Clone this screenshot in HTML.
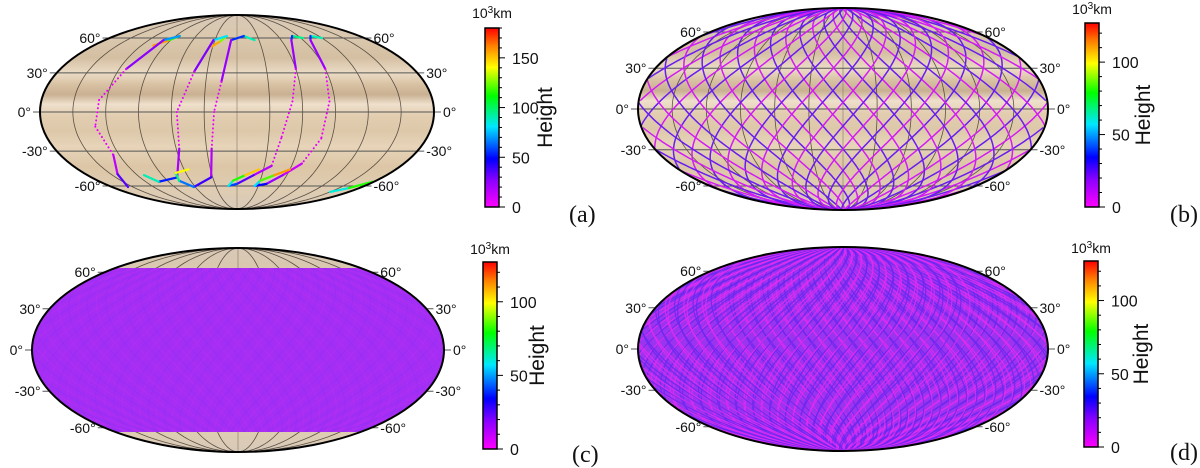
<!DOCTYPE html>
<html><head><meta charset="utf-8"><style>
html,body{margin:0;padding:0;background:#fff;}
svg{display:block;font-family:"Liberation Sans",sans-serif;}
</style></head><body>
<svg id="fig" width="1200" height="468" viewBox="0 0 1200 468" xmlns="http://www.w3.org/2000/svg">
<defs>
<linearGradient id="saturn" x1="0" y1="0" x2="0" y2="1">
<stop offset="0" stop-color="#d8c8b6"/><stop offset="0.12" stop-color="#dac8ae"/>
<stop offset="0.22" stop-color="#d4bfa2"/><stop offset="0.3" stop-color="#ecdcc6"/>
<stop offset="0.36" stop-color="#d8c1a2"/><stop offset="0.41" stop-color="#c9b092"/>
<stop offset="0.46" stop-color="#efe0cc"/><stop offset="0.52" stop-color="#e2cdb0"/>
<stop offset="0.6" stop-color="#ddc8aa"/><stop offset="0.68" stop-color="#e7d4b9"/>
<stop offset="0.78" stop-color="#dcc6a6"/><stop offset="0.9" stop-color="#dfccb2"/>
<stop offset="1" stop-color="#d8cab9"/>
</linearGradient>
<linearGradient id="cmap" x1="0" y1="1" x2="0" y2="0">
<stop offset="0" stop-color="#ff00ff"/><stop offset="0.15" stop-color="#8a00ff"/>
<stop offset="0.27" stop-color="#0000ff"/><stop offset="0.45" stop-color="#00e8ff"/>
<stop offset="0.62" stop-color="#00ff00"/><stop offset="0.78" stop-color="#ffff00"/>
<stop offset="0.9" stop-color="#ff8000"/><stop offset="1" stop-color="#ff0000"/>
</linearGradient>
</defs>
<g id="layer"></g>
</svg>
<script>
// ---- data ----
const latTicks = [60, 30, 0, -30, -60];
const meridians = [-150, -120, -90, -60, -30, 0, 30, 60, 90, 120, 150];
const cbTicksA = [0, 50, 100, 150];
const cbTicksB = [0, 50, 100];
const cbMaxA = 180;
const cbMaxB = 127;
// panel (a) trajectories: [lon, lat, height(10^3 km)]
const track1 = [[-105,53,175],[-92,58,140],[-84,62,95],[-100,58,45],[-113,33,8],[-127,9,3],[-131,-11,3],[-126,-33,5],[-142,-49,25],[-157,-61,45]];
const track2 = [[-31,52,170],[-22,57,140],[-15,62,110],[-32,58,50],[-43,31,8],[-55,0,3],[-57,-28,5],[-74,-52,35],[-103,-56,70],[-112,-50,110]];
const track3 = [[24,58,110],[10,62,70],[-8,58,40],[-15,23,8],[-21,0,3],[-25,-28,5],[-32,-52,30],[-62,-61,50],[-75,-55,80],[-72,-48,110],[-55,-45,170]];
const track4 = [[93,60,120],[81,62,70],[74,58,40],[60,33,8],[51,8,3],[42,-20,5],[38,-42,10],[20,-50,25],[0,-58,45],[-12,-60,70],[-5,-55,100],[10,-50,130],[25,-45,170]];
const track5 = [[120,60,110],[108,62,70],[100,58,40],[90,33,8],[85,8,3],[80,-20,5],[70,-40,8],[55,-50,15],[40,-58,35],[25,-60,60],[30,-55,100],[45,-50,140],[60,-45,175]];
const track6 = [[150,-66,70],[165,-62,100],[178,-56,130]];
const tracksA = [track1, track2, track3, track4, track5, track6];
// panel (b) pole-to-pole track start longitudes, drift directions
const nodesB = [-180,-162,-144,-126,-108,-90,-72,-54,-36,-18,0,18,36,54,72,90,108,126,144,162];
const dirsB = [1, -1];
const driftB = 190;
// panel (d) dense tracks
const nodesD = [-180,-171,-162,-153,-144,-135,-126,-117,-108,-99,-90,-81,-72,-63,-54,-45,-36,-27,-18,-9,0,9,18,27,36,45,54,63,72,81,90,99,108,117,126,135,144,153,162,171];
const driftD = [190, 160];
// panel (c) coverage latitude limits
const coverC = [-64, 64];

const NS = "http://www.w3.org/2000/svg";
const layer = document.getElementById('layer');
function mk(tag, attrs, parent){ const e=document.createElementNS(NS,tag); for(const k in attrs) e.setAttribute(k,attrs[k]); (parent||layer).appendChild(e); return e; }
function theta(lat){ const phi=lat*Math.PI/180; if(Math.abs(lat)>=90) return Math.sign(lat)*Math.PI/2; let t=phi; for(let i=0;i<30;i++){ const f=2*t+Math.sin(2*t)-Math.PI*Math.sin(phi); const d=2+2*Math.cos(2*t); if(Math.abs(d)<1e-9) break; t-=f/d; } return t; }
function proj(P, lon, lat){ const t=theta(lat); return [P.cx + P.a*(lon/180)*Math.cos(t), P.cy - P.b*Math.sin(t)]; }
function hcol(h, max){ const s=[[0,[255,0,255]],[0.15,[138,0,255]],[0.27,[0,0,255]],[0.45,[0,232,255]],[0.62,[0,255,0]],[0.78,[255,255,0]],[0.9,[255,128,0]],[1,[255,0,0]]]; let v=Math.max(0,Math.min(1,h/max)); for(let i=1;i<s.length;i++){ if(v<=s[i][0]){ const f=(v-s[i-1][0])/(s[i][0]-s[i-1][0]); const c=s[i-1][1].map((x,j)=>Math.round(x+(s[i][1][j]-x)*f)); return `rgb(${c})`; } } return 'rgb(255,0,0)'; }

const panels = {
 a:{cx:237,cy:112,a:197,b:97, cb:{x:485,y0:28,y1:207,max:cbMaxA,ticks:cbTicksA}, label:{x:569,y:222,t:'(a)'}, hx:552, ht:18},
 b:{cx:843,cy:109,a:205,b:101, cb:{x:1085,y0:23,y1:207,max:cbMaxB,ticks:cbTicksB}, label:{x:1170,y:222,t:'(b)'}, hx:1150, ht:14},
 c:{cx:238,cy:350,a:206,b:102, cb:{x:483,y0:262,y1:449,max:cbMaxB,ticks:cbTicksB}, label:{x:572,y:462,t:'(c)'}, hx:544, ht:254},
 d:{cx:843,cy:349,a:205,b:102, cb:{x:1084,y0:261,y1:447,max:cbMaxB,ticks:cbTicksB}, label:{x:1170,y:460,t:'(d)'}, hx:1148, ht:253}
};

function trackPath(P, start, dir, drift){ let d=''; let prev=null; for(let la=90; la>=-90; la-=1.5){ let lon=start+dir*drift*(90-la)/180; lon=((lon%360)+540)%360-180; const p=proj(P,lon,la); if(prev!==null && Math.abs(lon-prev)>180) d+=` M${p[0].toFixed(1)},${p[1].toFixed(1)}`; else d+=(d?' L':'M')+p[0].toFixed(1)+','+p[1].toFixed(1); prev=lon; } return d; }

for(const key of ['a','b','c','d']){
 const P=panels[key];
 const g=mk('g',{});  
 const cp=mk('clipPath',{id:'clip'+key},g); mk('ellipse',{cx:P.cx,cy:P.cy,rx:P.a,ry:P.b},cp);
 const bg=mk('ellipse',{cx:P.cx,cy:P.cy,rx:P.a,ry:P.b,fill:'url(#saturn)'},g);
  
 const gr=mk('g',{'clip-path':`url(#clip${key})`},g);
 for(const m of meridians){ let d=''; for(let la=-90;la<=90;la+=3){ const p=proj(P,m,la); d+=(d?' L':'M')+p[0].toFixed(1)+','+p[1].toFixed(1);} const e=mk('path',{d,fill:'none',stroke:m===0?'#8a7c6c':'#3a3128','stroke-width':0.8,'stroke-opacity':0.8},gr);   }
 for(const la of latTicks){ const l=proj(P,-180,la), r=proj(P,180,la); const e=mk('line',{x1:l[0]-7,y1:l[1],x2:r[0]+7,y2:r[1],stroke:'#555','stroke-width':1},g);  
  const t1=mk('text',{x:l[0]-9,y:l[1]+5,'text-anchor':'end','font-size':14,fill:'#111'},g); t1.textContent=la+'°';  
  const t2=mk('text',{x:r[0]+9,y:r[1]+5,'text-anchor':'start','font-size':14,fill:'#111'},g); t2.textContent=la+'°';   }
 const dg=mk('g',{'clip-path':`url(#clip${key})`},g);
  
 if(key==='a'){
  for(const tr of tracksA){ for(let i=1;i<tr.length;i++){ const p0=proj(P,tr[i-1][0],tr[i-1][1]), p1=proj(P,tr[i][0],tr[i][1]); const h=(tr[i-1][2]+tr[i][2])/2; const low=Math.max(tr[i-1][2],tr[i][2])<12; const e=mk('line',{x1:p0[0],y1:p0[1],x2:p1[0],y2:p1[1],stroke:hcol(h,cbMaxA),'stroke-width':low?2:2.2,'stroke-linecap':'round','stroke-dasharray':low?'0.1 4':'none'},dg);   } }
 } else if(key==='b'){
  nodesB.forEach((n,i)=>{ dirsB.forEach((dir,j)=>{ const e=mk('path',{d:trackPath(P,n,dir,driftB),fill:'none',stroke:(i+j)%2?'#6a1cf0':'#d21cf5','stroke-width':1.5},dg);   }); });
 } else if(key==='c'){
  const y0=proj(P,0,coverC[1])[1], y1=proj(P,0,coverC[0])[1];
  const bcp=mk('clipPath',{id:'bandc'},g); mk('rect',{x:P.cx-P.a,y:y0,width:2*P.a,height:y1-y0},bcp);
  const bandG=mk('g',{'clip-path':'url(#bandc)'},dg);
  const r=mk('rect',{x:P.cx-P.a,y:y0,width:2*P.a,height:y1-y0,fill:'#a52ef5'},bandG);  
  nodesD.forEach((n,i)=>{ [1,-1].forEach(dir=>{ const e=mk('path',{d:trackPath(P,n,dir,driftD[0]),fill:'none',stroke:i%2?'#8a30f2':'#c030f0','stroke-width':1,'stroke-opacity':0.4},bandG);   }); });
 } else {
  const f=mk('ellipse',{cx:P.cx,cy:P.cy,rx:P.a,ry:P.b,fill:'#9a34ee'},dg);  
  nodesD.forEach((n,i)=>{ driftD.forEach((dr,j)=>{ [1,-1].forEach(dir=>{ const e=mk('path',{d:trackPath(P,n+j*4,dir,dr),fill:'none',stroke:(i+j)%2?'#6a28f0':'#e02cf2','stroke-width':1.2,'stroke-opacity':0.85},dg);   }); }); });
 }
 const ol=mk('ellipse',{cx:P.cx,cy:P.cy,rx:P.a,ry:P.b,fill:'none',stroke:'#000','stroke-width':2},g);
  
 const C=P.cb; const cb=mk('g',{},g);  
 mk('rect',{x:C.x,y:C.y0,width:14,height:C.y1-C.y0,fill:'url(#cmap)',stroke:'#000','stroke-width':1.5},cb);
 const sy=v=>C.y1-(v/C.max)*(C.y1-C.y0);
 for(let v=0; v<=C.max; v+=10){ const maj=v%50===0; mk('line',{x1:C.x+14,y1:sy(v),x2:C.x+14+(maj?6:3),y2:sy(v),stroke:'#000','stroke-width':1},cb); }
 for(const v of C.ticks){ const t=mk('text',{x:C.x+27,y:sy(v)+6,'font-size':16,fill:'#111'},cb); t.textContent=v;   }
 const u=mk('text',{x:C.x+7,y:P.ht,'text-anchor':'middle','font-size':14,fill:'#111'},cb); u.innerHTML='10<tspan dy="-5" font-size="10">3</tspan><tspan dy="5">km</tspan>';  
 const mid=(C.y0+C.y1)/2;
 const ht=mk('text',{x:P.hx,y:mid,'text-anchor':'middle','font-size':21,fill:'#111',transform:`rotate(-90 ${P.hx} ${mid})`},cb); ht.textContent='Height';  
 const lb=mk('text',{x:P.label.x,y:P.label.y,'font-size':24,'font-family':'Liberation Serif, serif',fill:'#111'},g); lb.textContent=P.label.t;  
}
</script>
</body></html>
